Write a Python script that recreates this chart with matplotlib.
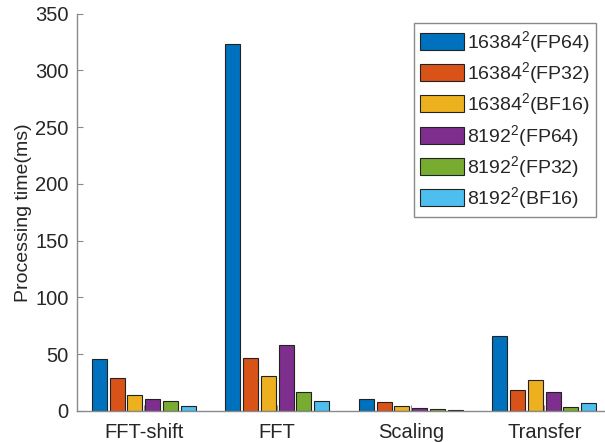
import matplotlib
matplotlib.use('Agg')
from matplotlib import pyplot as plt
import numpy as np

plt.rcParams['font.family'] = ['Liberation Sans', 'DejaVu Sans']
plt.rcParams['mathtext.default'] = 'regular'

# 数据：各阶段处理时间 (ms)
stages = ['FFT-shift', 'FFT', 'Scaling', 'Transfer']
series_names = ['16384$^2$(FP64)', '16384$^2$(FP32)', '16384$^2$(BF16)',
                '8192$^2$(FP64)', '8192$^2$(FP32)', '8192$^2$(BF16)']
t_16384_fp64 = [46, 323, 10.5, 66]
t_16384_fp32 = [29, 46.5, 7.8, 18.5]
t_16384_bf16 = [14.5, 30.5, 4.2, 27]
t_8192_fp64 = [10.5, 58, 2.6, 16.7]
t_8192_fp32 = [8.7, 16.8, 1.8, 3.6]
t_8192_bf16 = [4.3, 8.8, 0.9, 7]
yticks = [0, 50, 100, 150, 200, 250, 300, 350]

all_series = [t_16384_fp64, t_16384_fp32, t_16384_bf16,
              t_8192_fp64, t_8192_fp32, t_8192_bf16]
# MATLAB 默认配色
colors = ['#0072BD', '#D95319', '#EDB120', '#7E2F8E', '#77AC30', '#4DBEEE']

fig = plt.figure(figsize=(6.05, 4.42), dpi=100)
ax = fig.add_axes([77 / 605, 31 / 442, (611 - 77) / 605, (411 - 13.5) / 442])

x = np.arange(1, len(stages) + 1)
n = len(all_series)
pitch = 0.8 / n
width = pitch * 0.84
for k, (vals, c, name) in enumerate(zip(all_series, colors, series_names)):
    off = (k - (n - 1) / 2) * pitch
    ax.bar(x + off, vals, width, color=c, edgecolor='#222222', linewidth=0.8, label=name)

ax.set_xlim(0.5, 4.5)
ax.set_ylim(0, 350)
ax.set_yticks(yticks)
ax.set_xticks(x)
ax.set_xticklabels(stages)
ax.set_ylabel('Processing time(ms)', fontsize=14, color='#262626', labelpad=2)

for s in ['top', 'right']:
    ax.spines[s].set_visible(False)
for s in ['left', 'bottom']:
    ax.spines[s].set_color('#8a8a8a')
    ax.spines[s].set_linewidth(1.0)
ax.tick_params(axis='both', direction='in', length=4, color='#8a8a8a',
               labelsize=14.5, labelcolor='#262626')
ax.tick_params(axis='x', pad=9)
ax.tick_params(axis='y', pad=6)

leg = ax.legend(loc='upper right', bbox_to_anchor=(596 / 605, 1 - 23 / 442),
                bbox_transform=fig.transFigure, fontsize=14, frameon=True,
                fancybox=False, edgecolor='#8a8a8a', framealpha=1,
                handlelength=2.3, handleheight=0.95, handletextpad=0.15,
                labelspacing=0.28, borderpad=0.3, borderaxespad=0)
leg.get_frame().set_linewidth(1.0)
for t in leg.get_texts():
    t.set_color('#262626')

fig.savefig('out.png', dpi=100)
